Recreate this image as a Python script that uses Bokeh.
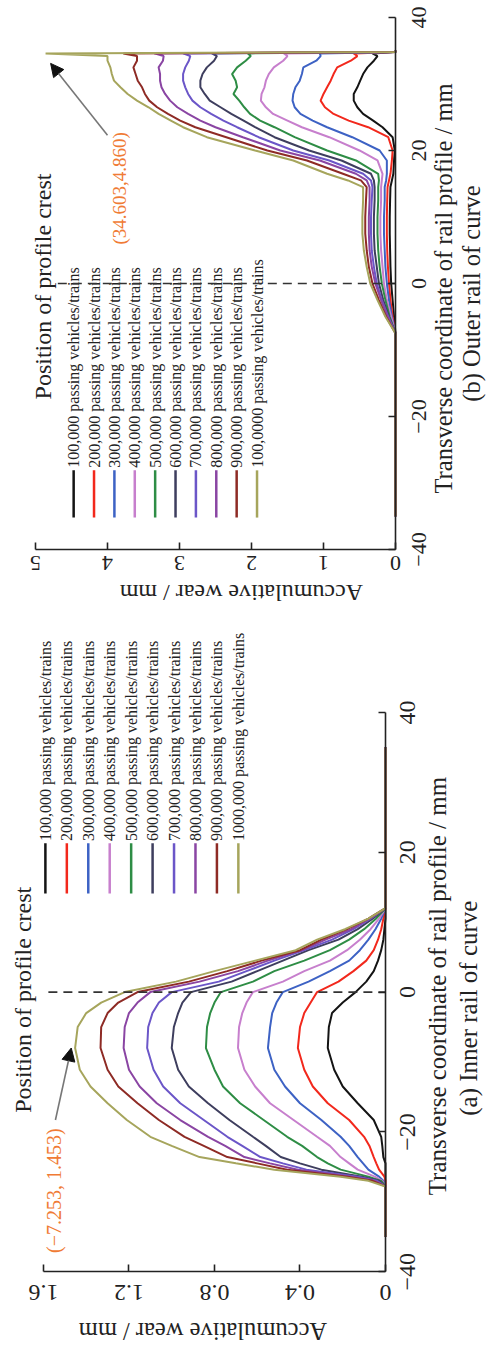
import math
from bokeh.plotting import figure
from bokeh.models import Range1d, FixedTicker, Arrow, NormalHead
from bokeh.layouts import column
from bokeh.embed import file_html
from bokeh.resources import INLINE
from bokeh.core.properties import value

FONT = "Liberation Serif"
COLORS = ["#141414", "#f2281c", "#3d62c4", "#c77fcd", "#2e8d45",
          "#3e3e5e", "#6b56c8", "#8a45a3", "#8e2b25", "#a6a55c"]
ORANGE = "#f07b35"
INK = "#222222"

# ---------------- (a) Inner rail of curve ----------------
TA = [-35, -27.8, -27, -26.4, -25.4, -24.5, -23.6, -22, -20.7, -18.3, -15.9, -13.5,
      -11.1, -8, -5, -3, -1.5, 0, 1.5, 3, 4.5, 6, 7.5, 9, 10.5, 12, 35]
A1 = [0, 0, 0, 0, 0, 0, 0.01, 0.015, 0.02, 0.055, 0.13, 0.20, 0.24, 0.27, 0.265, 0.25, 0.20,
      0.14, 0.09, 0.055, 0.035, 0.02, 0.01, 0.005, 0, 0, 0]
A2 = [0, 0, 0, 0.005, 0.03, 0.043, 0.055, 0.075, 0.10, 0.17, 0.27, 0.34, 0.38, 0.41, 0.40,
      0.38, 0.35, 0.32, 0.22, 0.15, 0.09, 0.055, 0.035, 0.02, 0.01, 0, 0]
A3 = [0, 0, 0.01, 0.03, 0.08, 0.105, 0.13, 0.17, 0.21, 0.30, 0.40, 0.47, 0.52, 0.55, 0.54,
      0.53, 0.51, 0.48, 0.36, 0.26, 0.17, 0.12, 0.08, 0.047, 0.02, 0, 0]
A4 = [0, 0, 0.015, 0.05, 0.13, 0.17, 0.21, 0.26, 0.32, 0.43, 0.54, 0.61, 0.66, 0.69, 0.685,
      0.67, 0.65, 0.62, 0.48, 0.38, 0.26, 0.18, 0.12, 0.07, 0.03, 0, 0]
A5 = [0, 0, 0.02, 0.08, 0.21, 0.27, 0.32, 0.39, 0.46, 0.57, 0.68, 0.76, 0.80, 0.84, 0.835,
      0.82, 0.80, 0.77, 0.62, 0.52, 0.38, 0.26, 0.17, 0.10, 0.045, 0, 0]
A6 = [0, 0, 0.03, 0.11, 0.30, 0.40, 0.49, 0.56, 0.62, 0.73, 0.83, 0.92, 0.97, 1.0, 0.99,
      0.97, 0.95, 0.91, 0.72, 0.60, 0.48, 0.36, 0.22, 0.13, 0.06, 0, 0]
A7 = [0, 0, 0.04, 0.13, 0.37, 0.48, 0.585, 0.67, 0.74, 0.85, 0.96, 1.04, 1.085, 1.115, 1.11,
      1.09, 1.06, 1.0, 0.78, 0.65, 0.52, 0.38, 0.25, 0.15, 0.07, 0, 0]
A8 = [0, 0, 0.05, 0.16, 0.41, 0.54, 0.66, 0.75, 0.83, 0.96, 1.07, 1.15, 1.20, 1.225, 1.22,
      1.20, 1.16, 1.10, 0.87, 0.69, 0.55, 0.39, 0.28, 0.16, 0.075, 0, 0]
A9 = [0, 0, 0.06, 0.18, 0.46, 0.60, 0.74, 0.85, 0.94, 1.06, 1.16, 1.25, 1.30, 1.333, 1.33,
      1.30, 1.25, 1.16, 0.92, 0.74, 0.58, 0.40, 0.30, 0.18, 0.08, 0, 0]
A10 = [0, 0, 0.08, 0.21, 0.52, 0.70, 0.87, 1.00, 1.10, 1.21, 1.30, 1.38, 1.43, 1.452, 1.44,
       1.40, 1.33, 1.22, 0.98, 0.80, 0.61, 0.42, 0.32, 0.19, 0.08, 0, 0]
SERIES_A = [A1, A2, A3, A4, A5, A6, A7, A8, A9, A10]
LABELS_A = ["100,000 passing vehicles/trains", "200,000 passing vehicles/trains",
            "300,000 passing vehicles/trains", "400,000 passing vehicles/trains",
            "500,000 passing vehicles/trains", "600,000 passing vehicles/trains",
            "700,000 passing vehicles/trains", "800,000 passing vehicles/trains",
            "900,000 passing vehicles/trains", "1000,000 passing vehicles/trains"]
WEAR_TICKS_A = [0, 0.4, 0.8, 1.2, 1.6]
WEAR_TICK_LABELS_A = ["0", "0.4", "0.8", "1.2", "1.6"]
CREST_A = (-7.253, 1.453)

# ---------------- (b) Outer rail of curve ----------------
TB = [-35, -7.5, -5, -2.5, 0, 2.5, 5, 7.5, 10, 12.5, 14.5, 15.5, 16.5, 18.5, 20, 22, 23.5,
      24.5, 25.5, 26.5, 27.5, 28.5, 29.5, 30.5, 31.5, 32.5, 33.5, 34.2, 34.6, 34.8, 35]
B1 = [0, 0, 0.02, 0.04, 0.06, 0.07, 0.075, 0.08, 0.08, 0.075, 0.07, 0.05, 0.03, 0.02, 0.01,
      0.04, 0.18, 0.31, 0.45, 0.53, 0.58, 0.58, 0.53, 0.49, 0.45, 0.39, 0.30, 0.25, 0.32, 0, 0]
B2 = [0, 0, 0.04, 0.07, 0.09, 0.105, 0.115, 0.12, 0.12, 0.115, 0.11, 0.09, 0.07, 0.05, 0.04,
      0.10, 0.38, 0.65, 0.86, 0.98, 1.04, 1.00, 0.95, 0.90, 0.86, 0.81, 0.62, 0.53, 0.58, 0, 0]
B3 = [0, 0, 0.05, 0.09, 0.12, 0.14, 0.15, 0.16, 0.16, 0.15, 0.15, 0.13, 0.12, 0.12, 0.22,
      0.60, 0.95, 1.15, 1.32, 1.40, 1.43, 1.42, 1.39, 1.33, 1.30, 1.28, 1.10, 1.04, 1.05, 0, 0]
B4 = [0, 0, 0.06, 0.12, 0.16, 0.18, 0.20, 0.21, 0.21, 0.20, 0.20, 0.19, 0.18, 0.25, 0.50,
      0.92, 1.30, 1.50, 1.70, 1.80, 1.87, 1.86, 1.82, 1.80, 1.76, 1.69, 1.56, 1.50, 1.55, 0, 0]
B5 = [0, 0, 0.08, 0.14, 0.19, 0.22, 0.24, 0.25, 0.25, 0.24, 0.24, 0.23, 0.24, 0.55, 0.95,
      1.40, 1.68, 1.88, 2.02, 2.10, 2.17, 2.25, 2.20, 2.22, 2.27, 2.20, 2.08, 2.01, 2.05, 0, 0]
B6 = [0, 0, 0.09, 0.17, 0.23, 0.26, 0.29, 0.30, 0.30, 0.29, 0.29, 0.30, 0.34, 0.75, 1.20,
      1.68, 1.95, 2.11, 2.28, 2.43, 2.58, 2.65, 2.71, 2.71, 2.68, 2.62, 2.52, 2.48, 2.55, 0, 0]
B7 = [0, 0, 0.10, 0.19, 0.26, 0.30, 0.33, 0.34, 0.34, 0.33, 0.32, 0.34, 0.45, 0.92, 1.42,
      1.90, 2.20, 2.39, 2.56, 2.71, 2.82, 2.88, 2.92, 2.95, 2.95, 2.92, 2.87, 2.85, 2.95, 0, 0]
B8 = [0, 0, 0.11, 0.20, 0.28, 0.33, 0.36, 0.37, 0.37, 0.36, 0.36, 0.40, 0.55, 1.05, 1.60,
      2.12, 2.50, 2.71, 2.88, 3.03, 3.13, 3.20, 3.25, 3.27, 3.27, 3.29, 3.23, 3.22, 3.35, 0, 0]
B9 = [0, 0, 0.13, 0.23, 0.32, 0.37, 0.40, 0.42, 0.42, 0.41, 0.40, 0.48, 0.73, 1.23, 1.78,
      2.35, 2.78, 2.99, 3.16, 3.31, 3.42, 3.48, 3.52, 3.58, 3.61, 3.64, 3.59, 3.59, 3.78, 0, 0]
B10 = [0, 0, 0.14, 0.25, 0.35, 0.40, 0.44, 0.46, 0.46, 0.45, 0.45, 0.66, 0.95, 1.42, 1.95,
       2.62, 2.95, 3.12, 3.29, 3.43, 3.59, 3.72, 3.82, 3.91, 3.94, 3.96, 4.00, 4.00, 4.86, 0, 0]
SERIES_B = [B1, B2, B3, B4, B5, B6, B7, B8, B9, B10]
LABELS_B = LABELS_A[:9] + ["100,0000 passing vehicles/trains"]
WEAR_TICKS_B = [0, 1, 2, 3, 4, 5]
WEAR_TICK_LABELS_B = ["0", "1", "2", "3", "4", "5"]
CREST_B = (34.603, 4.860)

T_TICKS = [-40, -20, 0, 20, 40]
T_TICK_LABELS = ["\u221240", "\u221220", "0", "20", "40"]


def setup_axes(p, wear_ticks, wear_max):
    xa = p.xaxis[0]
    ya = p.yaxis[0]
    for ax in (xa, ya):
        ax.axis_line_color = INK
        ax.axis_line_width = 1.6
        ax.major_tick_line_color = INK
        ax.major_tick_line_width = 1.6
        ax.major_tick_in = 7
        ax.major_tick_out = 0
        ax.minor_tick_line_color = None
        ax.major_label_text_font_size = "1px"
        ax.major_label_text_color = None
        ax.major_label_standoff = 0
    xa.fixed_location = -40
    xa.bounds = (0, wear_max)
    xa.ticker = FixedTicker(ticks=wear_ticks)
    ya.fixed_location = 0
    ya.bounds = (-40, 40)
    ya.ticker = FixedTicker(ticks=T_TICKS)
    p.grid.visible = False
    p.outline_line_color = None


def rtext(p, x, y, txt, angle, size, color=INK, align="center"):
    p.text(x=x, y=y, text=txt, angle=angle, text_align=align, text_baseline="middle",
           text_font=value(FONT), text_font_size=size, text_color=color)


# ---------- panel (b) on top ----------
pb = figure(width=486, height=628, x_range=Range1d(5.486, -1.264), y_range=Range1d(-51.88, 42.556),
            x_axis_location="below", y_axis_location="right",
            output_backend="svg", toolbar_location=None,
            min_border_left=0, min_border_right=0, min_border_top=0, min_border_bottom=0)
setup_axes(pb, WEAR_TICKS_B, 5)

for vals, c in zip(SERIES_B, COLORS):
    pb.line(x=vals, y=TB, line_color=c, line_width=2)

rtext(pb, WEAR_TICKS_B, [-42.0] * len(WEAR_TICKS_B), WEAR_TICK_LABELS_B, math.pi, "22px")
rtext(pb, [-0.32] * len(T_TICKS), T_TICKS, T_TICK_LABELS, math.pi / 2, "22px")

legx_b = [4.47 - i * 0.283 for i in range(10)]
pb.segment(x0=legx_b, y0=[-28.1] * 10, x1=legx_b, y1=[-35.2] * 10, line_color=COLORS, line_width=2.5)
rtext(pb, legx_b, [-27.7] * 10, LABELS_B, math.pi / 2, "16px", align="left")
pb.line(x=[4.69, 0], y=[0, 0], line_color="#333333", line_width=1.6, line_dash="9 6")
rtext(pb, [4.89], [-0.45], ["Position of profile crest"], math.pi / 2, "24px")
rtext(pb, [3.83], [14.3], ["(%.3f,%.3f)" % CREST_B], math.pi / 2, "19px", color=ORANGE)
pb.add_layout(Arrow(x_start=4.0, y_start=22.3, x_end=4.79, y_end=33.1, line_color="#777777",
                    line_width=1.6, end=NormalHead(size=13, fill_color="#111111", line_color="#111111")))
rtext(pb, [2.14], [-46.5], ["Accumulative wear / mm"], math.pi, "24px")
rtext(pb, [-0.667], [-0.75], ["Transverse coordinate of rail profile / mm"], math.pi / 2, "24.5px")
rtext(pb, [-1.06], [-1.5], ["(b) Outer rail of curve"], math.pi / 2, "24.5px")

# ---------- panel (a) below ----------
pa = figure(width=486, height=718, x_range=Range1d(1.801, -0.4725), y_range=Range1d(-50.70, 52.017),
            x_axis_location="below", y_axis_location="right",
            output_backend="svg", toolbar_location=None,
            min_border_left=0, min_border_right=0, min_border_top=0, min_border_bottom=0)
setup_axes(pa, WEAR_TICKS_A, 1.6)

for vals, c in zip(SERIES_A, COLORS):
    pa.line(x=vals, y=TA, line_color=c, line_width=2)

rtext(pa, WEAR_TICKS_A, [-43.0] * len(WEAR_TICKS_A), WEAR_TICK_LABELS_A, math.pi, "24px")
rtext(pa, [-0.103] * len(T_TICKS), T_TICKS, T_TICK_LABELS, math.pi / 2, "24px")

legx_a = [1.591 - i * 0.1003 for i in range(10)]
pa.segment(x0=legx_a, y0=[21.3] * 10, x1=legx_a, y1=[14.1] * 10, line_color=COLORS, line_width=2.5)
rtext(pa, legx_a, [21.6] * 10, LABELS_A, math.pi / 2, "16px", align="left")
pa.line(x=[1.577, 0], y=[0, 0], line_color="#333333", line_width=1.6, line_dash="9 6")
rtext(pa, [1.694], [-1.1], ["Position of profile crest"], math.pi / 2, "24px")
rtext(pa, [1.549], [-28.4], ["(\u2212%.3f, %.3f)" % (abs(CREST_A[0]), CREST_A[1])],
      math.pi / 2, "20px", color=ORANGE)
pa.add_layout(Arrow(x_start=1.544, y_start=-18.3, x_end=1.47, y_end=-8.0, line_color="#777777",
                    line_width=1.6, end=NormalHead(size=13, fill_color="#111111", line_color="#111111")))
rtext(pa, [0.854], [-48.6], ["Accumulative wear / mm"], math.pi, "24.5px")
rtext(pa, [-0.243], [0.86], ["Transverse coordinate of rail profile / mm"], math.pi / 2, "25px")
rtext(pa, [-0.39], [-2.3], ["(a) Inner rail of curve"], math.pi / 2, "25px")

layout = column(pb, pa)
open("out.html", "w").write(file_html(layout, INLINE))
